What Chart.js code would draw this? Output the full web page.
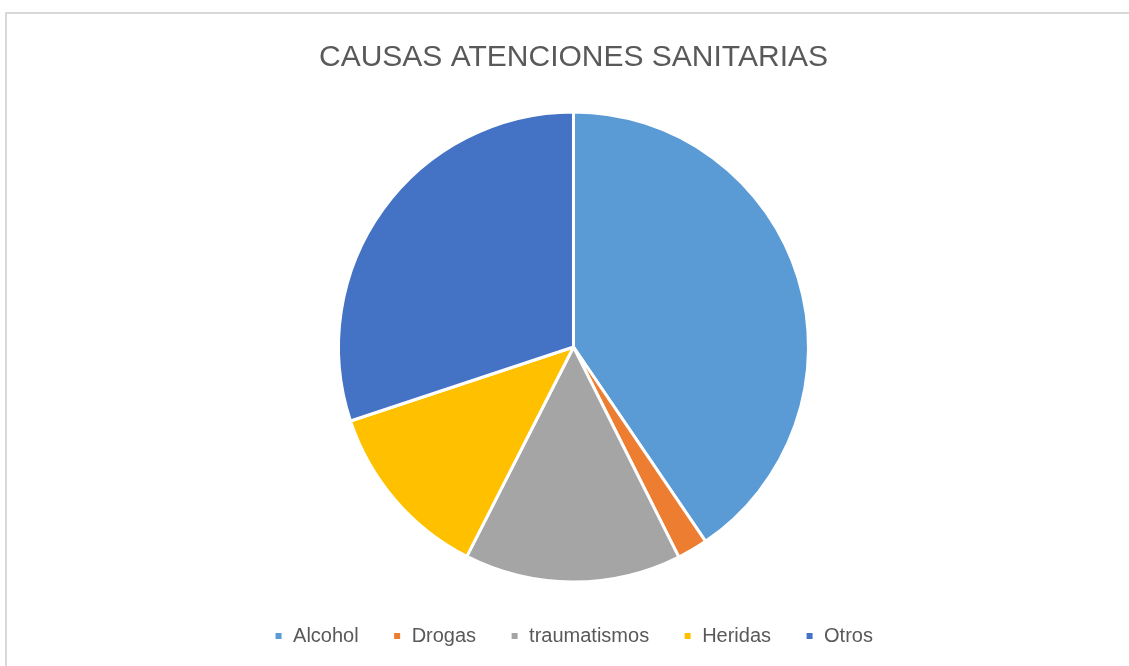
<!DOCTYPE html>
<html>
<head>
<meta charset="utf-8">
<script src="https://cdn.jsdelivr.net/npm/chart.js@4/dist/chart.umd.min.js"></script>
<style>
  html, body { margin: 0; padding: 0; background: #fff; overflow: hidden; }
  #wrap { position: relative; width: 1129px; height: 666px; }
  #frame { position: absolute; left: 5px; top: 12px; width: 1200px; height: 700px; border: 2px solid #d9d9d9; box-sizing: border-box; }
  #c { position: absolute; left: 0; top: 0; }
</style>
</head>
<body>
<div id="wrap">
  <div id="frame"></div>
  <canvas id="c" width="1129" height="666"></canvas>
</div>
<script>
var chartTitle = "CAUSAS ATENCIONES SANITARIAS";
var categories = ["Alcohol", "Drogas", "traumatismos", "Heridas", "Otros"];
var values = [40.5, 2.1, 14.9, 12.4, 30.1];
var colors = ["#5B9BD5", "#ED7D31", "#A5A5A5", "#FFC000", "#4472C4"];

var ctx = document.getElementById("c");
var chart = new Chart(ctx, {
  type: 'pie',
  data: {
    labels: categories,
    datasets: [
      {
        data: values,
        backgroundColor: colors,
        borderColor: '#ffffff',
        borderWidth: 3
      }
    ]
  },
  options: {
    responsive: false,
    animation: false,
    events: [],
    radius: 235,
    layout: { padding: { left: 18, bottom: 10 } },
    plugins: {
      title: {
        display: true,
        text: chartTitle,
        color: '#595959',
        font: { family: 'Liberation Sans', size: 30, weight: 'normal' },
        padding: { top: 40, bottom: 26 }
      },
      legend: {
        display: true,
        position: 'bottom',
        labels: {
          boxWidth: 9,
          boxHeight: 9,
          padding: 34,
          color: '#595959',
          font: { family: 'Liberation Sans', size: 20 }
        }
      },
      tooltip: { enabled: false }
    }
  }
});
</script>
</body>
</html>
